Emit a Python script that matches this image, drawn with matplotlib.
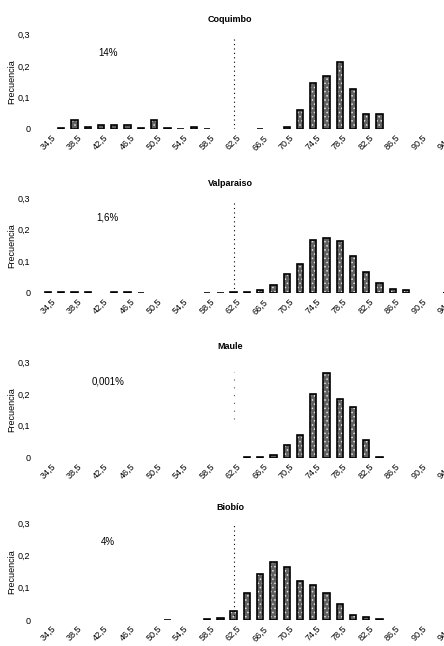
import matplotlib
matplotlib.use("Agg")
import matplotlib.pyplot as plt
import matplotlib.transforms as mtransforms

plt.rcParams['font.family'] = ['Liberation Sans', 'DejaVu Sans']
plt.rcParams['hatch.linewidth'] = 0.6

# Marcas de clase (intervalos de 2 unidades)
clases = [34.5, 36.5, 38.5, 40.5, 42.5, 44.5, 46.5, 48.5, 50.5, 52.5, 54.5,
          56.5, 58.5, 60.5, 62.5, 64.5, 66.5, 68.5, 70.5, 72.5, 74.5, 76.5,
          78.5, 80.5, 82.5, 84.5, 86.5, 88.5, 90.5, 92.5, 94.5]

# Se rotula una clase de cada dos
ticks_x = [34.5, 38.5, 42.5, 46.5, 50.5, 54.5, 58.5, 62.5, 66.5, 70.5, 74.5,
           78.5, 82.5, 86.5, 90.5, 94.5]
etiquetas_x = ['34,5', '38,5', '42,5', '46,5', '50,5', '54,5', '58,5', '62,5',
               '66,5', '70,5', '74,5', '78,5', '82,5', '86,5', '90,5', '94,5']

ticks_y = [0, 0.1, 0.2, 0.3]
etiquetas_y = ['0', '0,1', '0,2', '0,3']

umbral = 62.5

regiones = ['Coquimbo', 'Valparaiso', 'Maule', 'Biobío']
porcentajes = ['14%', '1,6%', '0,001%', '4%']

# Frecuencias relativas por region
coquimbo = [0, 0.003, 0.029, 0.005, 0.014, 0.014, 0.012, 0.003, 0.027, 0.004,
            0.001, 0.006, 0.001, 0, 0, 0, 0.001, 0, 0.005, 0.061, 0.145,
            0.168, 0.214, 0.126, 0.047, 0.048, 0, 0, 0, 0, 0]
valparaiso = [0.002, 0.002, 0.002, 0.002, 0, 0.002, 0.002, 0.001, 0, 0, 0,
              0, 0.001, 0.001, 0.003, 0.004, 0.008, 0.026, 0.06, 0.093, 0.168,
              0.174, 0.165, 0.118, 0.065, 0.031, 0.012, 0.009, 0, 0, 0.001]
maule = [0, 0, 0, 0, 0, 0, 0, 0, 0, 0, 0, 0, 0, 0, 0, 0.001, 0.003, 0.008,
         0.04, 0.071, 0.2, 0.265, 0.184, 0.16, 0.054, 0.003, 0, 0, 0, 0, 0]
biobio = [0, 0, 0, 0, 0, 0, 0, 0, 0, 0.001, 0, 0, 0.002, 0.007, 0.029, 0.085,
          0.142, 0.178, 0.165, 0.122, 0.109, 0.082, 0.049, 0.017, 0.008,
          0.002, 0, 0, 0, 0, 0]

series = [coquimbo, valparaiso, maule, biobio]

# (arriba, abajo) de cada grafico en pixeles desde el borde superior
W, H = 444, 646
bordes = [(34.5, 129), (198, 293), (362, 457.5), (523, 620)]

fig = plt.figure(figsize=(W / 100, H / 100), dpi=100)

for k, (region, pct, valores) in enumerate(zip(regiones, porcentajes, series)):
    top, bottom = bordes[k]
    ax = fig.add_axes([41.4 / W, 1 - bottom / H, 411 / W, (bottom - top) / H])

    xs = [c for c, v in zip(clases, valores) if v > 0]
    ys = [v for v in valores if v > 0]
    ax.bar(xs, ys, width=0.95, color='#606060', edgecolor='#e0e0e0',
           hatch='....', linewidth=0)
    ax.bar(xs, ys, width=0.95, fill=False, edgecolor='black', linewidth=1.2)

    # linea de corte
    if region == 'Maule':
        ax.vlines(umbral, 0.12, 0.27, colors='#555555', linewidth=0.8,
                  linestyles=(0, (1, 6)))
    else:
        ax.vlines(umbral, 0, 0.295, colors='black', linewidth=0.8,
                  linestyles=(0, (1, 3)))

    ax.text(43.5, 0.24, pct, ha='center', va='center', fontsize=7)

    ax.set_xlim(33.5, 95.5)
    ax.set_ylim(0, 0.3)
    for s in ax.spines.values():
        s.set_visible(False)
    ax.tick_params(length=0)

    ax.set_yticks(ticks_y)
    ax.set_yticklabels(etiquetas_y, fontsize=6.5)
    ax.tick_params(axis='y', pad=8)
    ax.set_ylabel('Frecuencia', fontsize=6.5, labelpad=1)

    ax.set_xticks(ticks_x)
    ax.set_xticklabels(etiquetas_x, fontsize=6.5, rotation=45, ha='right',
                       va='top', rotation_mode='anchor')
    ax.tick_params(axis='x', pad=3)
    desplaza = mtransforms.ScaledTranslation(2 / 72, 0, fig.dpi_scale_trans)
    for lbl in ax.get_xticklabels():
        lbl.set_transform(lbl.get_transform() + desplaza)

    ax.set_title(region, fontsize=6.5, fontweight='bold', x=0.459, pad=9)

fig.savefig('out.png', dpi=100)
